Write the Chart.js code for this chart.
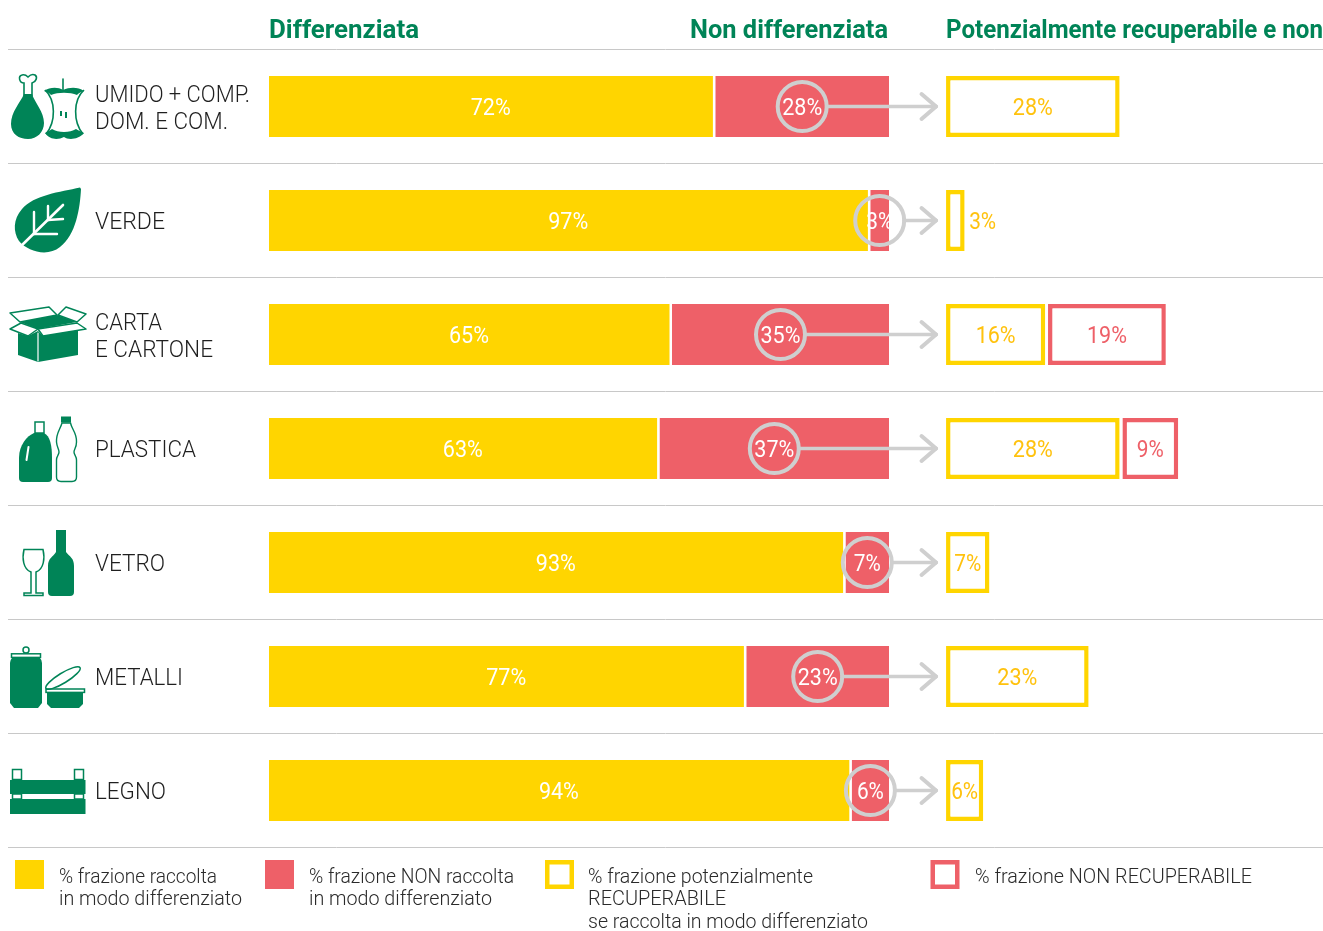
<!DOCTYPE html>
<html lang="it">
<head>
<meta charset="utf-8">
<title>Frazioni raccolte</title>
<script src="https://cdn.jsdelivr.net/npm/chart.js@4"></script>
<style>
html,body{margin:0;padding:0;background:#fff}
#wrap{position:relative;width:1323px;height:931px;overflow:hidden}
</style>
</head>
<body>
<div id="wrap"><canvas id="c"></canvas></div>
<script>
const categories = [["UMIDO + COMP.","DOM. E COM."],"VERDE",["CARTA","E CARTONE"],"PLASTICA","VETRO","METALLI","LEGNO"];
const categoryWidths = [[155,133],[70],[67,118],[101],[70],[88],[71]];
const differenziata = [72,97,65,63,93,77,94];
const nonDifferenziata = [28,3,35,37,7,23,6];
const recuperabile = [28,3,16,28,7,23,6];
const nonRecuperabile = [0,0,19,9,0,0,0];
const headers = [["Differenziata",269,150],["Non differenziata",690,198],["Potenzialmente recuperabile e non",946,377]];
const legendItems = [
  {lines:[["% frazione raccolta",158],["in modo differenziato",183]]},
  {lines:[["% frazione NON raccolta",205],["in modo differenziato",183]]},
  {lines:[["% frazione potenzialmente",225],["RECUPERABILE",138],["se raccolta in modo differenziato",280]]},
  {lines:[["% frazione NON RECUPERABILE",277]]}
];
const AXIS_MAX = 170, RIGHT_START = 109.2, RIGHT_GAP = 0.45;

const YELLOW="#FFD500", RED="#EE6068", GREEN="#008457", GREY="#CFCFCF", AMBER="#FFC20E", INK="#1F1F1F";
const FONT='Roboto,"Liberation Sans",sans-serif';

function fitText(ctx,text,x,y,font,w,color,align){
  ctx.save();ctx.font=font;ctx.fillStyle=color;ctx.textBaseline="middle";ctx.textAlign="left";
  const m=ctx.measureText(text).width, s=w?w/m:1, W=m*s;
  const x0=align==="center"?x-W/2:x;
  ctx.translate(x0,y);ctx.scale(s,1);ctx.fillText(text,0,0);ctx.restore();
}
function poly(ctx,pts,fill,stroke,lw){
  ctx.save();
  ctx.beginPath();pts.forEach((p,i)=>i?ctx.lineTo(p[0],p[1]):ctx.moveTo(p[0],p[1]));ctx.closePath();
  if(fill){ctx.fillStyle=fill;ctx.fill();}
  if(stroke){ctx.strokeStyle=stroke;ctx.lineWidth=lw||1.5;ctx.lineJoin="round";ctx.stroke();}
  ctx.restore();
}
function seg(ctx,a,b,c,d,color,lw){ctx.save();ctx.beginPath();ctx.moveTo(a,b);ctx.lineTo(c,d);ctx.strokeStyle=color;ctx.lineWidth=lw;ctx.lineCap="round";ctx.stroke();ctx.restore();}

function drawIcons(ctx){
  ctx.save();
  const G=GREEN;
  // drumstick
  ctx.fillStyle=G;ctx.beginPath();ctx.moveTo(24,94);ctx.bezierCurveTo(20,103,11,112,11,124);ctx.bezierCurveTo(11,134,19,139,28,139);ctx.bezierCurveTo(37,139,44,132,44,123);ctx.bezierCurveTo(44,112,35,103,32,94);ctx.closePath();ctx.fill();
  ctx.strokeStyle=G;ctx.lineWidth=1.6;
  ctx.beginPath();ctx.moveTo(24,96);ctx.lineTo(24,83);ctx.bezierCurveTo(19,83,18,76,22,75);ctx.bezierCurveTo(25,74,27,76,28,77);ctx.bezierCurveTo(30,75,33,74,35,75);ctx.bezierCurveTo(38,77,36,82,32,83);ctx.lineTo(32,96);ctx.stroke();
  // apple core
  ctx.beginPath();ctx.moveTo(45,90);ctx.bezierCurveTo(56,100,56,122,46,134);ctx.moveTo(84,90);ctx.bezierCurveTo(73,100,73,122,83,134);ctx.stroke();
  ctx.fillStyle=G;
  ctx.beginPath();ctx.moveTo(44,91);ctx.bezierCurveTo(50,87,58,87,63,90);ctx.bezierCurveTo(70,87,78,87,84,91);ctx.bezierCurveTo(80,92,78,94,77,95);ctx.bezierCurveTo(70,92,58,92,51,95);ctx.bezierCurveTo(50,94,48,92,44,91);ctx.fill();
  ctx.beginPath();ctx.moveTo(45,133);ctx.bezierCurveTo(48,131,51,130,52,129);ctx.bezierCurveTo(58,133,70,133,76,129);ctx.bezierCurveTo(78,130,81,132,84,133);ctx.bezierCurveTo(78,140,68,140,64,137);ctx.bezierCurveTo(58,140,50,140,45,133);ctx.fill();
  seg(ctx,63,79,63,90,G,1.6);
  ctx.fillRect(60,111,2,5);ctx.fillRect(65,112,2,6);
  // leaf
  ctx.fillStyle=G;ctx.beginPath();ctx.moveTo(80,187.5);ctx.bezierCurveTo(60,192,34,195,22,209);ctx.bezierCurveTo(13,219,13,232,19,241);ctx.bezierCurveTo(28,252,48,257,60,247);ctx.bezierCurveTo(76,235,80,208,81,189);ctx.closePath();ctx.fill();
  seg(ctx,18,249,63,205,"#fff",2.6);seg(ctx,34,234,34,212,"#fff",2.4);seg(ctx,34,234,57,234,"#fff",2.4);seg(ctx,48,220,48,206,"#fff",2.4);seg(ctx,48,220,63,219,"#fff",2.4);
  // box
  poly(ctx,[[20,322],[57,315],[77,322],[38,329]],G);
  poly(ctx,[[18,333],[28,336],[38,331],[43,336],[78,329],[78,355],[38,362],[18,355]],G);
  seg(ctx,38,333,38,361,"#fff",1.2);
  poly(ctx,[[10,313],[49,307],[57,315],[20,322]],"#fff",G,1.5);
  poly(ctx,[[58,315],[66,307],[86,314],[77,322]],"#fff",G,1.5);
  poly(ctx,[[10,329],[21,323],[38,329],[28,336]],"#fff",G,1.5);
  poly(ctx,[[38,329],[77,323],[86,329],[43,336]],"#fff",G,1.5);
  // detergent
  ctx.fillStyle=G;ctx.beginPath();ctx.moveTo(19,478);ctx.lineTo(19,458);ctx.bezierCurveTo(19,445,27,436,34,433);ctx.lineTo(44,433);ctx.bezierCurveTo(50,436,52,445,52,458);ctx.lineTo(52,478);ctx.quadraticCurveTo(52,482,48,482);ctx.lineTo(23,482);ctx.quadraticCurveTo(19,482,19,478);ctx.fill();
  ctx.strokeStyle=G;ctx.lineWidth=1.5;ctx.strokeRect(35,422,9,11);
  seg(ctx,28.5,447,26.5,460,"#fff",2);
  // water bottle
  ctx.fillStyle=G;ctx.fillRect(61,416.5,10,6);
  ctx.beginPath();ctx.moveTo(62,423);ctx.bezierCurveTo(60,430,56,433,56.5,442);ctx.bezierCurveTo(57,448,59,449,59,452);ctx.bezierCurveTo(59,455,56.5,456,56.5,460);ctx.lineTo(56.5,477);ctx.quadraticCurveTo(56.5,481.5,61,481.5);ctx.lineTo(72,481.5);ctx.quadraticCurveTo(76.5,481.5,76.5,477);ctx.lineTo(76.5,460);ctx.bezierCurveTo(76.5,456,74,455,74,452);ctx.bezierCurveTo(74,449,76.5,448,76.5,442);ctx.bezierCurveTo(77,433,72,430,70.5,423);ctx.closePath();ctx.lineWidth=1.4;ctx.stroke();
  // glass
  ctx.lineWidth=1.5;ctx.beginPath();ctx.moveTo(24,549.5);ctx.lineTo(43,549.5);ctx.bezierCurveTo(45,558,44,569,36,572);ctx.lineTo(36,593);ctx.lineTo(43,593);ctx.lineTo(43,595.5);ctx.lineTo(24,595.5);ctx.lineTo(24,593);ctx.lineTo(31,593);ctx.lineTo(31,572);ctx.bezierCurveTo(23,569,22,558,24,549.5);ctx.closePath();ctx.stroke();
  // wine bottle
  ctx.fillStyle=G;ctx.beginPath();ctx.moveTo(56,530);ctx.lineTo(66,530);ctx.lineTo(66,552);ctx.bezierCurveTo(70,557,74,558,74,566);ctx.lineTo(74,592);ctx.quadraticCurveTo(74,596,70,596);ctx.lineTo(52,596);ctx.quadraticCurveTo(48,596,48,592);ctx.lineTo(48,566);ctx.bezierCurveTo(48,558,53,557,56,552);ctx.closePath();ctx.fill();
  // can
  ctx.beginPath();ctx.moveTo(12,658);ctx.lineTo(40,658);ctx.quadraticCurveTo(42,660,42,663);ctx.lineTo(42,703);ctx.lineTo(38,708);ctx.lineTo(14,708);ctx.lineTo(10,703);ctx.lineTo(10,663);ctx.quadraticCurveTo(10,660,12,658);ctx.fill();
  ctx.lineWidth=1.5;ctx.strokeRect(11.5,653.8,29,3.6);
  ctx.beginPath();ctx.arc(26,650,3,0,Math.PI*2);ctx.stroke();
  // tin
  ctx.beginPath();ctx.moveTo(47,693);ctx.lineTo(83,693);ctx.lineTo(83,704);ctx.lineTo(79,708);ctx.lineTo(51,708);ctx.lineTo(47,704);ctx.closePath();ctx.fill();
  ctx.strokeRect(46,689,38.5,3.4);
  ctx.beginPath();ctx.ellipse(63,678,20,5,-0.55,0,Math.PI*2);ctx.stroke();
  // crate
  ctx.strokeRect(12.5,769.5,9,10);ctx.strokeRect(74.5,769.5,9,10);ctx.strokeRect(12.5,794,9,5);ctx.strokeRect(74.5,794,9,5);
  ctx.fillRect(10,780,75.5,14);ctx.fillRect(10,799,75.5,15);
  ctx.restore();
}

const paint = {
  id:"paint",
  beforeDatasetsDraw(chart){
    const {ctx,chartArea:a}=chart;
    ctx.save();ctx.strokeStyle="#C8C8C8";ctx.lineWidth=1;
    const n=categories.length, h=(a.bottom-a.top)/n;
    for(let i=0;i<=n;i++){const y=a.top+i*h;ctx.beginPath();ctx.moveTo(8,y);ctx.lineTo(a.right,y);ctx.stroke();}
    ctx.restore();
    headers.forEach(h=>fitText(ctx,h[0],h[1],32,"bold 25px "+FONT,h[2],GREEN));
    drawIcons(ctx);
  },
  afterDatasetsDraw(chart){
    const {ctx}=chart, X=chart.scales.x, Y=chart.scales.y;
    const font="24px "+FONT;
    categories.forEach((c,i)=>{
      const y=Y.getPixelForValue(i), d=differenziata[i], u=nonDifferenziata[i], r=recuperabile[i], q=nonRecuperabile[i];
      // category label
      const lines=[].concat(c), lh=27, y0=y+2.5-(lines.length-1)*lh/2;
      lines.forEach((t,k)=>fitText(ctx,t,95,y0+k*lh,"300 24px "+FONT,categoryWidths[i][k],INK));
      // arrow and ring
      const cx=X.getPixelForValue(d+u/2), tip=X.getPixelForValue(RIGHT_START)-10, R=24.5;
      ctx.save();
      seg(ctx,cx+R,y,tip,y,GREY,3.6);
      seg(ctx,tip-14.5,y-12.5,tip,y,GREY,4);seg(ctx,tip-14.5,y+12.5,tip,y,GREY,4);
      ctx.beginPath();ctx.arc(cx,y,R,0,Math.PI*2);ctx.strokeStyle=GREY;ctx.lineWidth=4;ctx.stroke();
      ctx.restore();
      const ly=y+2;
      fitText(ctx,d+"%",X.getPixelForValue(d/2)-1.5,ly,font,40,"#fff","center");
      fitText(ctx,u+"%",cx,ly,font,u<10?27:40,"#fff","center");
      const rx=X.getPixelForValue(RIGHT_START+r/2);
      if(r<5) fitText(ctx,r+"%",X.getPixelForValue(RIGHT_START+r)+18,ly,font,27,AMBER,"center");
      else fitText(ctx,r+"%",rx,ly,font,r<10?27:40,AMBER,"center");
      if(q>0){
        const qs=RIGHT_START+r+RIGHT_GAP;
        fitText(ctx,q+"%",X.getPixelForValue(qs+q/2),ly,font,q<10?27:40,RED,"center");
      }
    });
    // legend
    const swX=[15,265,545,930.5], txX=[59,309,588,975], style=[[YELLOW,null],[RED,null],[null,YELLOW],[null,RED]], rows=[878,900,923];
    legendItems.forEach((it,i)=>{
      ctx.save();
      if(style[i][0]){ctx.fillStyle=style[i][0];ctx.fillRect(swX[i],860,29,29);}
      else{ctx.strokeStyle=style[i][1];ctx.lineWidth=4.5;ctx.strokeRect(swX[i]+2.25,862.25,24.5,24.5);}
      ctx.restore();
      it.lines.forEach((l,k)=>fitText(ctx,l[0],txX[i],rows[k],"300 21px "+FONT,l[1],"#2A2A2A"));
    });
  }
};

const solid = {grouped:false,barThickness:61,inflateAmount:0,borderSkipped:false};
new Chart(document.getElementById("c"),{
  type:"bar",
  plugins:[paint],
  data:{
    labels:categories,
    datasets:[
      {...solid,label:"Differenziata",data:differenziata.map(d=>[0,d]),backgroundColor:YELLOW,borderColor:"#fff",borderWidth:{left:0,top:0,bottom:0,right:2.5}},
      {...solid,label:"Non differenziata",data:nonDifferenziata.map((u,i)=>[differenziata[i],differenziata[i]+u]),backgroundColor:RED,borderWidth:0},
      {...solid,label:"Recuperabile",data:recuperabile.map(r=>[RIGHT_START,RIGHT_START+r]),backgroundColor:"#fff",borderColor:YELLOW,borderWidth:4.5},
      {...solid,label:"Non recuperabile",data:nonRecuperabile.map((q,i)=>q?[RIGHT_START+recuperabile[i]+RIGHT_GAP,RIGHT_START+recuperabile[i]+RIGHT_GAP+q]:null),backgroundColor:"#fff",borderColor:RED,borderWidth:4.5}
    ]
  },
  options:{
    indexAxis:"y",responsive:true,maintainAspectRatio:false,animation:false,
    layout:{padding:{left:269,right:0,top:49.5,bottom:83.5}},
    plugins:{legend:{display:false},tooltip:{enabled:false}},
    scales:{
      x:{min:0,max:AXIS_MAX,display:false},
      y:{offset:true,display:false}
    }
  }
});
</script>
</body>
</html>
